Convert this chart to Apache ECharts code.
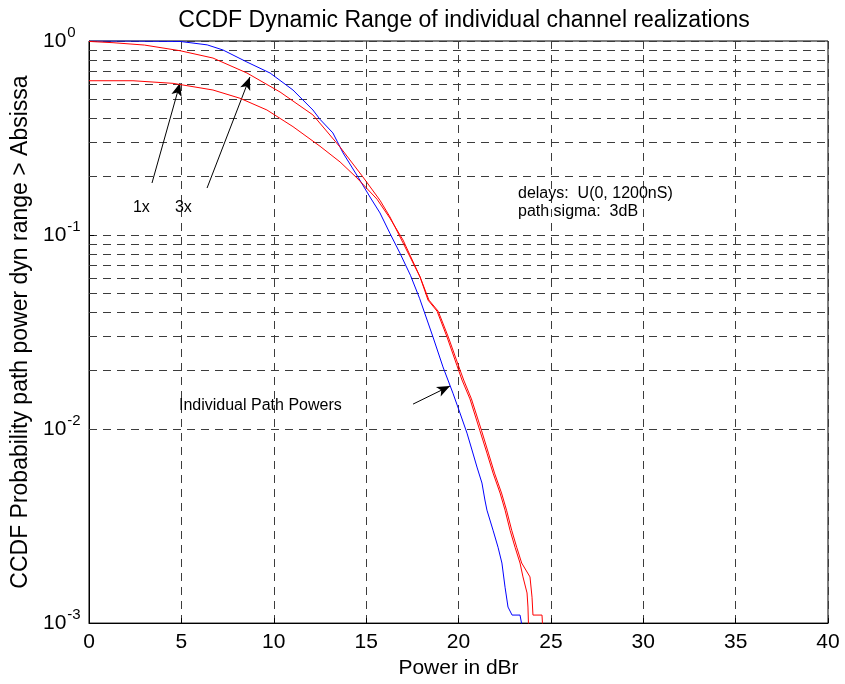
<!DOCTYPE html>
<html>
<head>
<meta charset="utf-8">
<script src="https://cdn.jsdelivr.net/npm/echarts@6/dist/echarts.min.js"></script>
<style>
  html, body { margin: 0; padding: 0; background: #ffffff; }
  #chart { width: 845px; height: 684px; }
</style>
</head>
<body>
<div id="chart"></div>
<script>
// Axis setup
const xTicks = [0, 5, 10, 15, 20, 25, 30, 35, 40];
const yDecades = [0.001, 0.01, 0.1, 1];
// intermediate log grid levels (2..9 within each decade)
const yMinorLevels = [
  0.002, 0.003, 0.004, 0.005, 0.006, 0.007, 0.008, 0.009,
  0.02, 0.03, 0.04, 0.05, 0.06, 0.07, 0.08, 0.09,
  0.2, 0.3, 0.4, 0.5, 0.6, 0.7, 0.8, 0.9
];

// Individual path powers (blue)
const pathPowerX = [0, 2, 4.93, 6.4, 7.25, 8.55, 9.8, 11.04, 12.12, 12.5, 13.2, 13.75, 14.56, 15.21, 15.75,
  16.29, 16.83, 17.4, 17.9, 18.62, 19.16, 19.7, 20.08, 20.46, 20.73, 21.0, 21.27, 21.43,
  21.54, 21.87, 22.14, 22.35, 22.52, 22.68, 22.9, 23.33, 23.5];
const pathPowerY = [1.0, 1.0, 0.995, 0.955, 0.899, 0.779, 0.684, 0.559, 0.441, 0.395, 0.336, 0.265, 0.199, 0.157, 0.130,
  0.102, 0.0807, 0.062, 0.047, 0.0298, 0.0209, 0.0153, 0.0121, 0.00953, 0.0078, 0.00637, 0.00527, 0.00431,
  0.00382, 0.00301, 0.00246, 0.00204, 0.00153, 0.00121, 0.0011, 0.0011, 0.0009];

// Dynamic range, 3x realizations (red)
const range3xX = [0, 1.3, 3, 4.93, 6.71, 8.55, 10.34, 12.12, 13.59, 14.83, 15.75, 16.29, 17.0, 17.92, 18.35,
  18.84, 19.38, 19.92, 20.19, 20.62, 21.16, 21.54, 21.87, 22.25, 22.52, 22.79, 23.06, 23.33, 23.49,
  23.71, 23.76, 23.8];
const range3xY = [0.995, 0.98, 0.953, 0.891, 0.817, 0.684, 0.546, 0.416, 0.284, 0.199, 0.151, 0.124, 0.091, 0.0608, 0.0462,
  0.0405, 0.0298, 0.0212, 0.0179, 0.0143, 0.0098, 0.00752, 0.00593, 0.00468, 0.00382, 0.00301, 0.00246, 0.00204, 0.00173,
  0.00143, 0.00121, 0.0009];

// Dynamic range, 1x realization (red)
const range1xX = [0, 2.38, 4.55, 6.71, 8.17, 9.63, 11.04, 12.5, 13.59, 14.5, 15.59, 16.29, 17.0, 17.92,
  18.4, 18.9, 19.45, 20.0, 20.28, 20.7, 21.25, 21.62, 21.95, 22.33, 22.6, 22.88, 23.15,
  23.42, 23.87, 23.98, 24.03, 24.52, 24.57];
const range1xY = [0.624, 0.624, 0.605, 0.559, 0.507, 0.441, 0.362, 0.287, 0.238, 0.197, 0.153, 0.122, 0.0942, 0.0608,
  0.0462, 0.0405, 0.0298, 0.0212, 0.0179, 0.0143, 0.0098, 0.00752, 0.00593, 0.00468, 0.00382, 0.00301, 0.00246,
  0.00204, 0.00173, 0.00136, 0.0011, 0.0011, 0.0009];

// Annotation arrows: [tailX, tailY, headX, headY] in data units
const arrow1x = [3.41, 0.1854, 4.93, 0.6075];
const arrow3x = [6.39, 0.1747, 8.71, 0.652];
const arrowPaths = [17.54, 0.01345, 19.54, 0.01667];

// Annotation texts: [text, x, y] in data units (left edge, vertical centre)
const notes = [
  ['1x', 2.38, 0.1386],
  ['3x', 4.65, 0.1386],
  ['Individual Path Powers', 4.87, 0.01314],
  ['delays:  U(0, 1200nS)', 23.22, 0.1627],
  ['path sigma:  3dB', 23.22, 0.1314]
];

const FONT = '"Liberation Sans", Arial, sans-serif';
const GRID_COLOR = '#3c3c3c';
const DASH = [8, 6];

function zip(xs, ys) { return xs.map((x, i) => [x, ys[i]]); }

function arrowLine(a) {
  return [{ coord: [a[0], a[1]], symbol: 'none' }, { coord: [a[2], a[3]], symbol: 'arrow', symbolSize: [8, 13] }];
}

const chart = echarts.init(document.getElementById('chart'), null, { renderer: 'canvas' });

const option = {
  backgroundColor: '#ffffff',
  animation: false,
  title: {
    text: 'CCDF Dynamic Range of individual channel realizations',
    left: 459, top: 4, textAlign: 'center',
    textStyle: { fontFamily: FONT, fontSize: 23, fontWeight: 'normal', color: '#000' }
  },
  grid: {
    left: 89, top: 41, right: 17, bottom: 60,
    show: true, borderColor: '#000', borderWidth: 1, backgroundColor: '#fff'
  },
  xAxis: {
    type: 'value', min: xTicks[0], max: xTicks[xTicks.length - 1], interval: 5,
    name: 'Power in dBr', nameLocation: 'middle', nameGap: 33,
    nameTextStyle: { fontFamily: FONT, fontSize: 21, color: '#000' },
    axisLine: { show: true, lineStyle: { color: '#000', width: 1 } },
    axisTick: { show: true, inside: true, length: 5, lineStyle: { color: '#000' } },
    axisLabel: { fontFamily: FONT, fontSize: 21, color: '#000', margin: 9 },
    splitLine: { show: true, lineStyle: { color: GRID_COLOR, type: DASH, width: 1 } }
  },
  yAxis: {
    type: 'log', logBase: 10, min: yDecades[0], max: yDecades[yDecades.length - 1],
    name: 'CCDF Probability path power dyn range > Absissa', nameLocation: 'middle', nameGap: 55,
    nameTextStyle: { fontFamily: FONT, fontSize: 23, color: '#000' },
    axisLine: { show: true, lineStyle: { color: '#000', width: 1 } },
    axisTick: { show: true, inside: true, length: 5, lineStyle: { color: '#000' } },
    axisLabel: {
      fontFamily: FONT, color: '#000', align: 'left', margin: 46,
      formatter: function (v) {
        const e = Math.round(Math.log10(v));
        return '{b|10}{e|' + e + '}';
      },
      rich: {
        b: { fontFamily: FONT, fontSize: 21, color: '#000' },
        e: { fontFamily: FONT, fontSize: 15, color: '#000', padding: [0, 0, 16, 1] }
      }
    },
    splitLine: { show: true, lineStyle: { color: GRID_COLOR, type: DASH, width: 1 } }
  },
  series: [
    {
      name: 'grid-minor', type: 'line', data: [], silent: true,
      markLine: {
        silent: true, symbol: 'none', animation: false,
        label: { show: false },
        lineStyle: { color: GRID_COLOR, type: DASH, width: 1 },
        data: yMinorLevels.map(v => ({ yAxis: v }))
      }
    },
    {
      name: 'Individual Path Powers', type: 'line', data: zip(pathPowerX, pathPowerY),
      showSymbol: false, lineStyle: { color: '#0000ff', width: 1 }, itemStyle: { color: '#0000ff' }, z: 5
    },
    {
      name: '3x', type: 'line', data: zip(range3xX, range3xY),
      showSymbol: false, lineStyle: { color: '#ff0000', width: 1 }, itemStyle: { color: '#ff0000' }, z: 5
    },
    {
      name: '1x', type: 'line', data: zip(range1xX, range1xY),
      showSymbol: false, lineStyle: { color: '#ff0000', width: 1 }, itemStyle: { color: '#ff0000' }, z: 5
    },
    {
      name: 'arrows', type: 'line', data: [], silent: true, z: 6,
      markLine: {
        silent: true, animation: false,
        label: { show: false },
        lineStyle: { color: '#000', type: 'solid', width: 1 },
        itemStyle: { color: '#000' },
        data: [arrowLine(arrow1x), arrowLine(arrow3x), arrowLine(arrowPaths)]
      }
    }
  ]
};

chart.setOption(option);

// Place annotation texts in data coordinates
const graphics = notes.map(n => {
  const p = chart.convertToPixel({ gridIndex: 0 }, [n[1], n[2]]);
  return {
    type: 'text', x: p[0], y: p[1], z: 10,
    style: { text: n[0], fontFamily: FONT, fontSize: 16, fill: '#000', verticalAlign: 'middle' }
  };
});
chart.setOption({ graphic: graphics });
</script>
</body>
</html>
